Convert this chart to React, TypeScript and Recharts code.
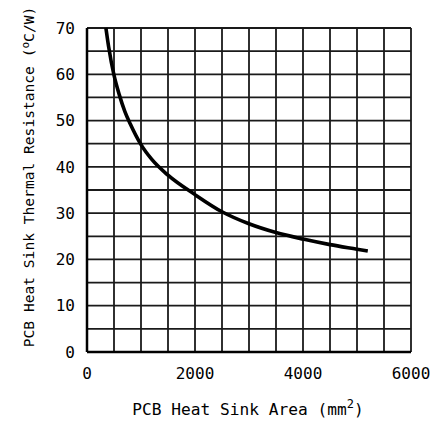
import React from 'react';
import { LineChart, Line, XAxis, YAxis, CartesianGrid, Label } from 'recharts';

const areaMm2 = [350, 400, 500, 600, 700, 800, 1000, 1200, 1500, 2000, 2500, 3000, 3500, 4000, 4500, 5000, 5200];
const resistance = [70, 66, 59.8, 55.5, 52, 49.3, 44.8, 41.6, 38.2, 34, 30.3, 27.7, 25.8, 24.4, 23.2, 22.2, 21.8];

const xTicks = [0, 2000, 4000, 6000];
const yTicks = [0, 10, 20, 30, 40, 50, 60, 70];
const xGrid = [0, 500, 1000, 1500, 2000, 2500, 3000, 3500, 4000, 4500, 5000, 5500, 6000];
const yGrid = [0, 5, 10, 15, 20, 25, 30, 35, 40, 45, 50, 55, 60, 65, 70];

const X_MAX = 6000;
const Y_MAX = 70;

const data = areaMm2.map((x, i) => ({ x, y: resistance[i] }));

const FONT = '"DejaVu Sans Mono", monospace';
const tickStyle = { fontFamily: FONT, fontSize: 16, fill: '#000' };

const XTitle = (props: any) => {
  const { viewBox } = props;
  const cx = viewBox.x + viewBox.width / 2;
  return (
    <text x={cx - 1} y={415} textAnchor="middle" fontFamily={FONT} fontSize={16.2} fill="#000">
      PCB Heat Sink Area (mm
      <tspan dy={-7} fontSize={12}>2</tspan>
      <tspan dy={7}>)</tspan>
    </text>
  );
};

const YTitle = () => (
  <text
    x={34}
    y={177}
    transform="rotate(-90 34 177)"
    textAnchor="middle"
    fontFamily={FONT}
    fontSize={14.6}
    fill="#000"
  >
    PCB Heat Sink Thermal Resistance (
    <tspan dy={-5} fontSize={11}>o</tspan>
    <tspan dy={5}>C/W)</tspan>
  </text>
);

export default function App() {
  return (
    <div style={{ position: 'absolute', left: 0, top: 0, background: '#fff' }}>
      <LineChart width={435} height={424} data={data} margin={{ top: 28, right: 24, left: 0, bottom: 0 }}>
        <CartesianGrid
          stroke="#1a1a1a"
          strokeWidth={1.8}
          verticalCoordinatesGenerator={({ offset }: any) =>
            xGrid.map((v) => offset.left + (v / X_MAX) * offset.width)
          }
          horizontalCoordinatesGenerator={({ offset }: any) =>
            yGrid.map((v) => offset.top + offset.height - (v / Y_MAX) * offset.height)
          }
        />
        <XAxis
          type="number"
          dataKey="x"
          domain={[0, X_MAX]}
          ticks={xTicks}
          height={72}
          tickLine={false}
          tickSize={0}
          tickMargin={16}
          axisLine={{ stroke: '#000', strokeWidth: 2.5 }}
          tick={tickStyle}
        >
          <Label content={<XTitle />} />
        </XAxis>
        <YAxis
          type="number"
          domain={[0, Y_MAX]}
          ticks={yTicks}
          width={87}
          tickLine={false}
          tickSize={0}
          tickMargin={12}
          axisLine={{ stroke: '#000', strokeWidth: 2.5 }}
          tick={tickStyle}
        >
          <Label content={<YTitle />} />
        </YAxis>
        <Line
          type="monotone"
          dataKey="y"
          stroke="#000"
          strokeWidth={3.6}
          dot={false}
          isAnimationActive={false}
        />
      </LineChart>
    </div>
  );
}
